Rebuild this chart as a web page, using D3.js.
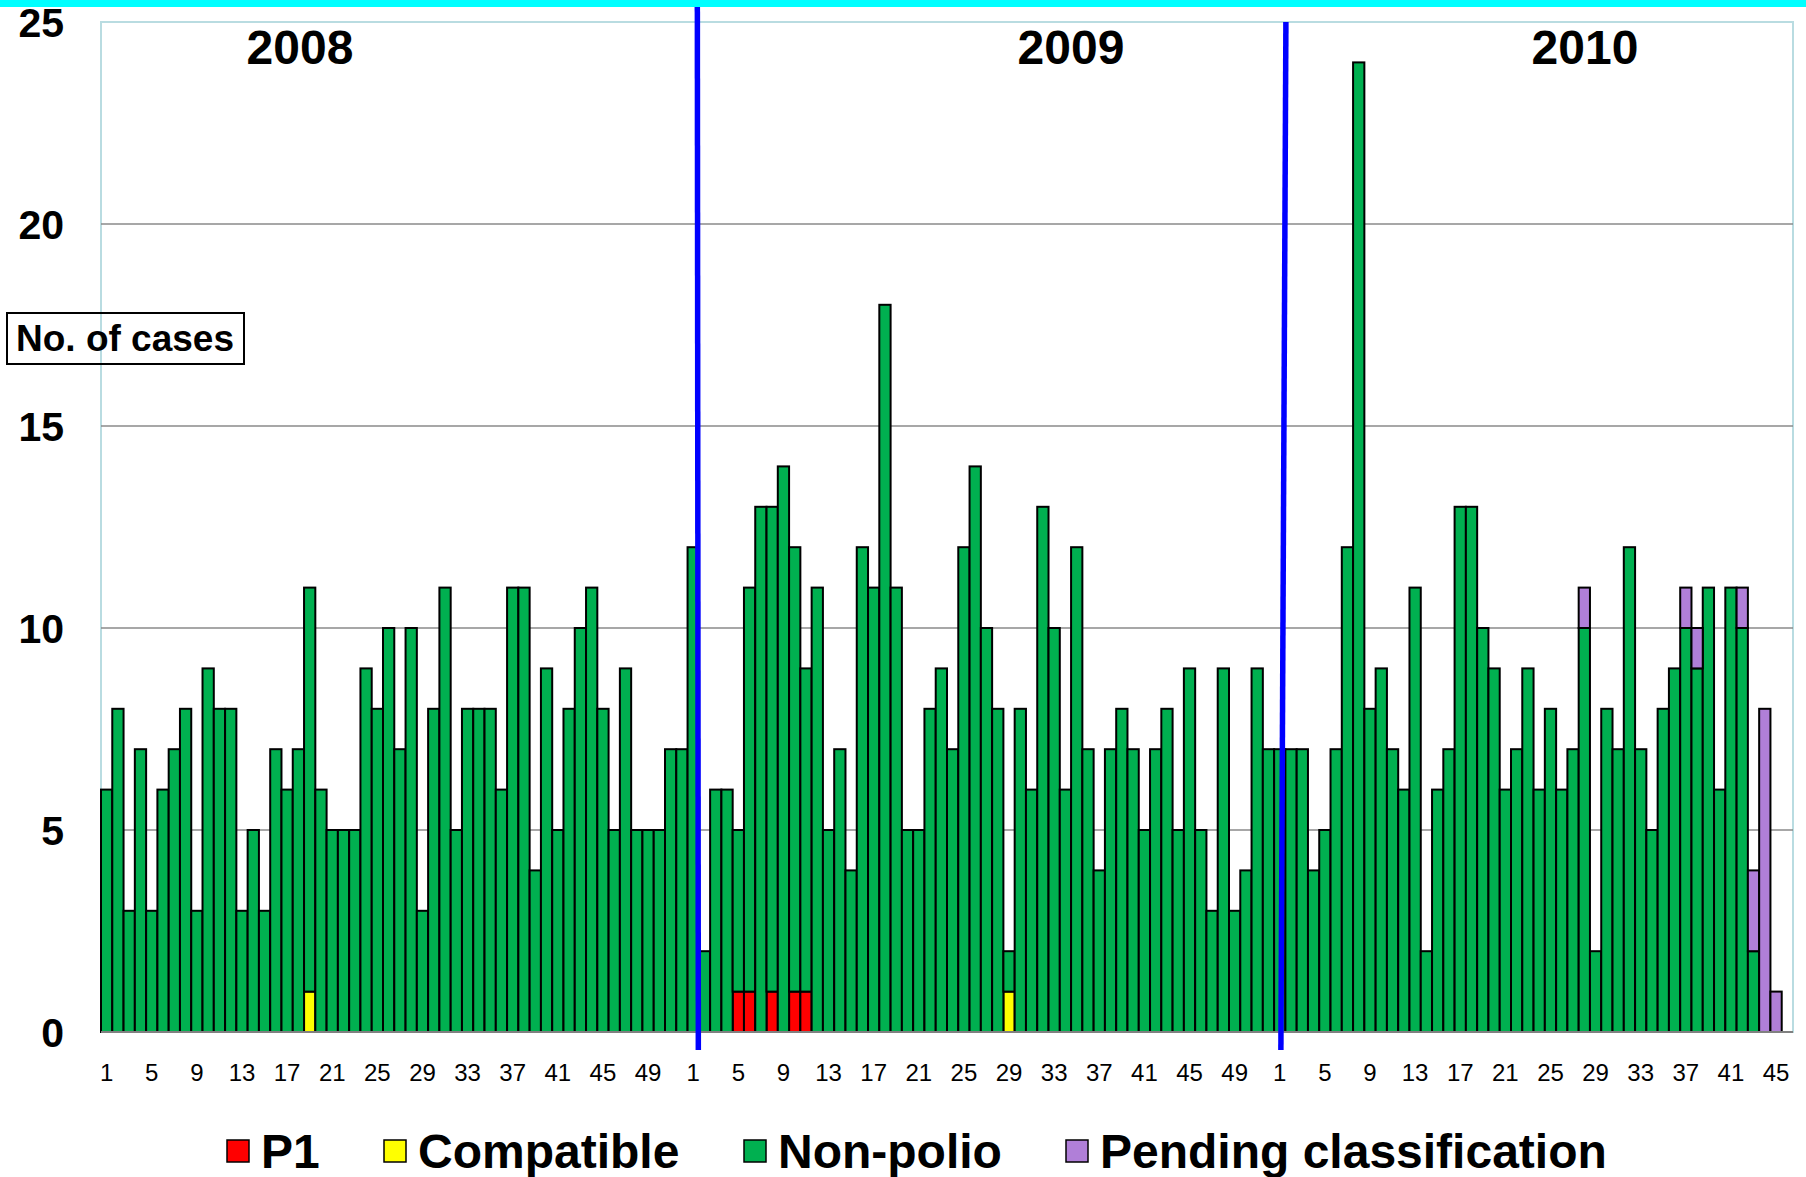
<!DOCTYPE html>
<html>
<head>
<meta charset="utf-8">
<script src="https://cdn.jsdelivr.net/npm/d3@7"></script>
<style>
  body { margin: 0; background: #fff; }
  text { font-family: Arial, "Liberation Sans", sans-serif; }
</style>
</head>
<body>
<script>
// weekly AFP cases, 2008-2010
const years = [2008, 2009, 2010];
const nonPolio2008 = [6,8,3,7,3,6,7,8,3,9,8,8,3,5,3,7,6,7,10,6,5,5,5,9,8,10,7,10,3,8,11,5,8,8,8,6,11,11,4,9,5,8,10,11,8,5,9,5,5,5,7,7];
const nonPolio2009 = [12,2,6,6,4,10,13,12,14,11,8,11,5,7,4,12,11,18,11,5,5,8,9,7,12,14,10,8,1,8,6,13,10,6,12,7,4,7,8,7,5,7,8,5,9,5,3,9,3,4,9,7];
const nonPolio2010 = [7,7,7,4,5,7,12,24,8,9,7,6,11,2,6,7,13,13,10,9,6,7,9,6,8,6,7,10,2,8,7,12,7,5,8,9,10,9,11,6,11,10,2,0,0];
// [year, week, cases]
const p1Cases = [[2009,5,1],[2009,6,1],[2009,8,1],[2009,10,1],[2009,11,1]];
const compatibleCases = [[2008,19,1],[2009,29,1]];
const pendingCases = [[2010,28,1],[2010,37,1],[2010,38,1],[2010,42,1],[2010,43,2],[2010,44,8],[2010,45,1]];

const tickWeeks = [1,5,9,13,17,21,25,29,33,37,41,45,49];
const yTicks = [0,5,10,15,20,25];
const seriesKeys = ["p1","compatible","nonPolio","pending"];
const seriesNames = ["P1","Compatible","Non-polio","Pending classification"];
const seriesColors = ["#ff0000","#ffff00","#00b050","#b07fd8"];

const W = 1806, H = 1177;
const plotL = 101, plotR = 1793, plotT = 22, plotB = 1032;

// build rows
let nonPolio = [nonPolio2008, nonPolio2009, nonPolio2010];
let rows = [];
years.forEach(function(yr, i){
	nonPolio[i].forEach(function(v, w){
		rows.push({key: yr + "-" + (w+1), year: yr, week: w+1, p1: 0, compatible: 0, nonPolio: v, pending: 0});
	});
});
function addCases(list, field){
	list.forEach(function(c){
		let r = rows.find(e => e.year == c[0] && e.week == c[1]);
		r[field] += c[2];
	});
}
addCases(p1Cases, "p1");
addCases(compatibleCases, "compatible");
addCases(pendingCases, "pending");

let stacked = d3.stack().keys(seriesKeys)(rows);

let x = d3.scaleBand().domain(rows.map(d => d.key).concat(["end"])).range([plotL, plotR]).padding(0);
let y = d3.scaleLinear().domain([0, 25]).range([plotB, plotT]);

let svg = d3.select("body").append("svg")
	.attr("width", W).attr("height", H);

// cyan strip at top
svg.append("rect").attr("x", 0).attr("y", 0).attr("width", W).attr("height", 7).attr("fill", "#00ffff");

// plot frame
svg.append("rect")
	.attr("x", plotL).attr("y", plotT)
	.attr("width", plotR - plotL).attr("height", plotB - plotT)
	.attr("fill", "none").attr("stroke", "#b9dce1").attr("stroke-width", 2);

// gridlines
svg.append("g").selectAll("line")
	.data(yTicks.filter(d => d > 0 && d < 25))
	.join("line")
	.attr("x1", plotL).attr("x2", plotR)
	.attr("y1", d => y(d)).attr("y2", d => y(d))
	.attr("stroke", "#8a8a8a").attr("stroke-width", 1.5);

// y labels
let yAxis = d3.axisLeft(y).tickValues(yTicks).tickSize(0).tickPadding(0);
let ya = svg.append("g").attr("transform", "translate(64,0)").call(yAxis);
ya.select(".domain").remove();
ya.selectAll("text")
	.attr("font-size", 41).attr("font-weight", "bold").attr("fill", "#000")
	.attr("font-family", "Arial, 'Liberation Sans', sans-serif")
	.attr("dy", "0.36em");

// bars
svg.append("g").selectAll("g")
	.data(stacked)
	.join("g")
	.attr("fill", (d, i) => seriesColors[i])
	.selectAll("rect")
	.data(d => d.filter(s => s[1] - s[0] > 0))
	.join("rect")
	.attr("x", d => x(d.data.key))
	.attr("y", d => y(d[1]))
	.attr("width", x.bandwidth())
	.attr("height", d => y(d[0]) - y(d[1]))
	.attr("stroke", "#000").attr("stroke-width", 2);

// baseline
svg.append("line")
	.attr("x1", plotL).attr("x2", plotR).attr("y1", plotB).attr("y2", plotB)
	.attr("stroke", "#808080").attr("stroke-width", 2);

// x labels
let xLabels = rows.filter(d => tickWeeks.includes(d.week));
svg.append("g").selectAll("text")
	.data(xLabels)
	.join("text")
	.attr("x", d => x(d.key) + x.bandwidth()/2)
	.attr("y", 1081)
	.attr("text-anchor", "middle")
	.attr("font-size", 24)
	.text(d => d.week);

// year separators
let bw = x.bandwidth();
let sep = [
	{x1: x("2009-1") + bw - 1.5, y1: 7, x2: x("2009-1") + bw - 0.5, y2: 1050},
	{x1: x("2010-1") + bw + 0.5, y1: plotT, x2: x("2010-1") + bw*0.6, y2: 1050}
];
svg.append("g").selectAll("line")
	.data(sep)
	.join("line")
	.attr("x1", d => d.x1).attr("y1", d => d.y1)
	.attr("x2", d => d.x2).attr("y2", d => d.y2)
	.attr("stroke", "#0000ff").attr("stroke-width", 5.5);

// year labels
let yearX = [300, 1071, 1585];
svg.append("g").selectAll("text")
	.data(years)
	.join("text")
	.attr("x", (d, i) => yearX[i]).attr("y", 64)
	.attr("text-anchor", "middle")
	.attr("font-size", 48).attr("font-weight", "bold")
	.text(d => d);

// y title box
svg.append("rect").attr("x", 7).attr("y", 313).attr("width", 237).attr("height", 51)
	.attr("fill", "none").attr("stroke", "#000").attr("stroke-width", 2);
svg.append("text").attr("x", 16).attr("y", 351)
	.attr("font-size", 37).attr("font-weight", "bold")
	.text("No. of cases");

// legend
let legX = [227, 384, 744, 1066];
let leg = svg.append("g").selectAll("g")
	.data(seriesNames)
	.join("g")
	.attr("transform", (d, i) => "translate(" + legX[i] + ",1140)");
leg.append("rect").attr("width", 22).attr("height", 22)
	.attr("fill", (d, i) => seriesColors[i])
	.attr("stroke", "#000").attr("stroke-width", 1.5);
leg.append("text").attr("x", 34).attr("y", 28)
	.attr("font-size", 48).attr("font-weight", "bold")
	.text(d => d);
</script>
</body>
</html>
